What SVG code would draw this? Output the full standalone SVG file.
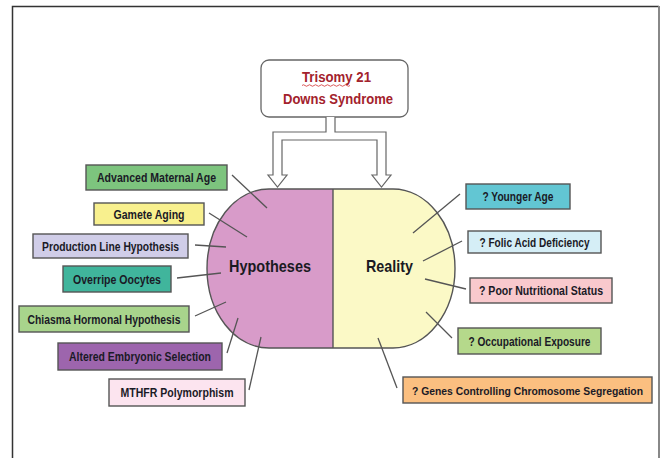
<svg xmlns="http://www.w3.org/2000/svg" width="661" height="458" viewBox="0 0 661 458">
<style>
.box{stroke:#555;stroke-width:1.4}
.t{font-family:"Liberation Sans",Arial,sans-serif;font-weight:bold;font-size:12px;fill:#1a1a26;text-anchor:middle}
.big{font-family:"Liberation Sans",Arial,sans-serif;font-weight:bold;font-size:17px;fill:#1a1a22;text-anchor:middle}
.title{font-family:"Liberation Sans",Arial,sans-serif;font-weight:bold;font-size:14px;fill:#a3222c;text-anchor:middle}
.con line{stroke:#555;stroke-width:1.3}
</style>
<rect width="661" height="458" fill="#fff"/>
<g id="frame" fill="none">
<path d="M12.5,458 V6.5 H659" stroke="#333" stroke-width="1.5"/>
<line x1="659" y1="6" x2="659" y2="458" stroke="#888" stroke-width="2"/>
</g>
<g id="title">
<rect x="261" y="60" width="147" height="57" rx="8" fill="#fff" stroke="#666" stroke-width="1.3"/>
<text class="title" x="336.5" y="82" textLength="69" lengthAdjust="spacingAndGlyphs">Trisomy 21</text>
<path d="M302,85.5 q1.5,-1.5 3,0 t3,0 t3,0 t3,0 t3,0 t3,0 t3,0 t3,0 t3,0 t3,0 t3,0 t3,0 t3,0 t3,0 t3,0 t3,0" fill="none" stroke="#d03030" stroke-width="0.8"/>
<text class="title" x="338" y="104" textLength="110" lengthAdjust="spacingAndGlyphs">Downs Syndrome</text>
</g>
<g id="split-arrow">
<path d="M326,117 V132 H273 V175 H268 L277.5,187 L287,175 H282 V140 H377 V175 H372 L381.5,187 L391,175 H386 V132 H335 V117" fill="#fff" stroke="#666" stroke-width="1.2"/>
</g>
<g id="center">
<path d="M333,189 H269 A62,79.5 0 0 0 207,268.5 A62,79.5 0 0 0 269,348 H333 Z" fill="#d89bc9"/>
<path d="M333,189 H393 A62,79.5 0 0 1 455,268.5 A62,79.5 0 0 1 393,348 H333 Z" fill="#fbf9c6"/>
<path d="M269,189 H393 A62,79.5 0 0 1 455,268.5 A62,79.5 0 0 1 393,348 H269 A62,79.5 0 0 1 207,268.5 A62,79.5 0 0 1 269,189 Z" fill="none" stroke="#555" stroke-width="1.4"/>
<line x1="333" y1="189" x2="333" y2="348" stroke="#555" stroke-width="1.4"/>
<text class="big" x="270" y="271.5" textLength="82" lengthAdjust="spacingAndGlyphs">Hypotheses</text>
<text class="big" x="389.5" y="271.5" textLength="47" lengthAdjust="spacingAndGlyphs">Reality</text>
</g>
<g id="connectors" class="con">
<line x1="232" y1="175" x2="267" y2="208"/>
<line x1="209" y1="213" x2="247" y2="237"/>
<line x1="195" y1="245" x2="226" y2="247"/>
<line x1="177" y1="278" x2="221" y2="273"/>
<line x1="195" y1="316" x2="226" y2="302"/>
<line x1="227" y1="353" x2="238" y2="318"/>
<line x1="249" y1="390" x2="261" y2="337"/>
<line x1="413" y1="233" x2="460" y2="194"/>
<line x1="423" y1="261" x2="462" y2="241"/>
<line x1="425" y1="279" x2="466" y2="289"/>
<line x1="426" y1="312" x2="452" y2="338"/>
<line x1="378" y1="338" x2="397" y2="388"/>
</g>
<g id="advanced-maternal-age"><rect class="box" x="86" y="165" width="141" height="25" fill="#7dc47e"/><text class="t" x="156.5" y="182" textLength="119" lengthAdjust="spacingAndGlyphs">Advanced Maternal Age</text></g>
<g id="gamete-aging"><rect class="box" x="94" y="203" width="110" height="22" fill="#f8f08e"/><text class="t" x="149" y="218.5" textLength="71" lengthAdjust="spacingAndGlyphs">Gamete Aging</text></g>
<g id="production-line"><rect class="box" x="33" y="234" width="155" height="24" fill="#d0cde8"/><text class="t" x="110.5" y="250.5" textLength="137" lengthAdjust="spacingAndGlyphs">Production Line Hypothesis</text></g>
<g id="overripe-oocytes"><rect class="box" x="63" y="266" width="108" height="26" fill="#40b59c"/><text class="t" x="117" y="283.5" textLength="88" lengthAdjust="spacingAndGlyphs">Overripe Oocytes</text></g>
<g id="chiasma-hormonal"><rect class="box" x="19" y="306" width="170" height="26" fill="#a8d48c"/><text class="t" x="104" y="323.5" textLength="153" lengthAdjust="spacingAndGlyphs">Chiasma Hormonal Hypothesis</text></g>
<g id="altered-embryonic"><rect class="box" x="58" y="343" width="164" height="27" fill="#9d65ad"/><text class="t" x="140" y="361" textLength="142" lengthAdjust="spacingAndGlyphs">Altered Embryonic Selection</text></g>
<g id="mthfr"><rect class="box" x="109" y="379" width="136" height="27" fill="#fce4ef"/><text class="t" x="177" y="397" textLength="113" lengthAdjust="spacingAndGlyphs">MTHFR Polymorphism</text></g>
<g id="younger-age"><rect class="box" x="466" y="184" width="104" height="25" fill="#62c6d3"/><text class="t" x="518" y="201" textLength="71" lengthAdjust="spacingAndGlyphs">? Younger Age</text></g>
<g id="folic-acid"><rect class="box" x="468" y="231" width="133" height="22" fill="#d5eef6"/><text class="t" x="534.5" y="246.5" textLength="110" lengthAdjust="spacingAndGlyphs">? Folic Acid Deficiency</text></g>
<g id="poor-nutrition"><rect class="box" x="470" y="278" width="142" height="25" fill="#f9c9cd"/><text class="t" x="541" y="295" textLength="124" lengthAdjust="spacingAndGlyphs">? Poor Nutritional Status</text></g>
<g id="occupational"><rect class="box" x="458" y="328" width="143" height="26" fill="#b5d98b"/><text class="t" x="529.5" y="345.5" textLength="122" lengthAdjust="spacingAndGlyphs">? Occupational Exposure</text></g>
<g id="genes"><rect class="box" x="403" y="377" width="249" height="26" fill="#fbbf80"/><text class="t" x="527.5" y="394.5" style="font-size:10.5px" textLength="231" lengthAdjust="spacingAndGlyphs">? Genes Controlling Chromosome Segregation</text></g>
</svg>
